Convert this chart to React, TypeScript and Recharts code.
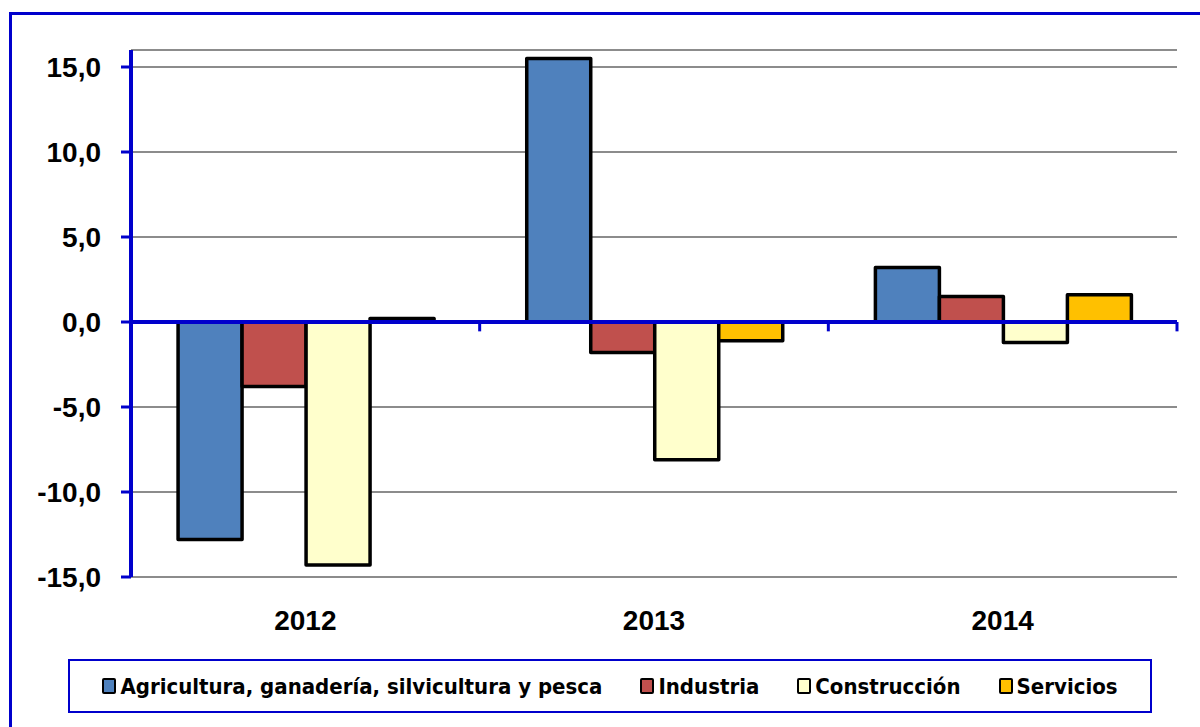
import React from 'react';
import { BarChart, Bar, XAxis, YAxis, CartesianGrid, ReferenceLine } from 'recharts';

const years = ['2012', '2013', '2014'];
const agricultura = [-12.8, 15.5, 3.2];
const industria = [-3.8, -1.8, 1.5];
const construccion = [-14.3, -8.1, -1.2];
const servicios = [0.2, -1.1, 1.6];
const yTicks = [-15, -10, -5, 0, 5, 10, 15];

const series = [
  { key: 'agricultura', name: 'Agricultura, ganadería, silvicultura y pesca', color: '#4F81BD' },
  { key: 'industria', name: 'Industria', color: '#C0504D' },
  { key: 'construccion', name: 'Construcción', color: '#FFFFCC' },
  { key: 'servicios', name: 'Servicios', color: '#FFC000' },
];

const data = years.map((year, i) => ({
  year,
  agricultura: agricultura[i],
  industria: industria[i],
  construccion: construccion[i],
  servicios: servicios[i],
}));

const AXIS_BLUE = '#0000CC';
const labelFont = '"Liberation Sans", Arial, sans-serif';
const legendFont = '"Liberation Sans Narrow", "DejaVu Sans Condensed", sans-serif';

const fmt = (v: number) => v.toFixed(1).replace('.', ',');

export default function App() {
  return (
    <div style={{ position: 'absolute', left: 0, top: 0, width: 1200, height: 727, overflow: 'hidden', background: '#fff' }}>
      <div
        style={{
          position: 'absolute',
          left: 9,
          top: 12,
          width: 1300,
          height: 800,
          border: `3px solid ${AXIS_BLUE}`,
        }}
      />
      <div style={{ position: 'absolute', left: 0, top: 0 }}>
        <BarChart
          width={1200}
          height={727}
          data={data}
          margin={{ top: 50, right: 23, bottom: 90, left: 0 }}
          barCategoryGap="13.5%"
          barGap={0}
        >
          <CartesianGrid horizontal vertical={false} stroke="#8C8C8C" strokeWidth={2} />
          <XAxis
            dataKey="year"
            axisLine={false}
            tickLine={false}
            tickSize={0}
            tickMargin={33}
            height={60}
            tick={{ fill: '#000', fontSize: 28, fontWeight: 'bold', fontFamily: labelFont }}
          />
          <YAxis
            width={131}
            domain={[-15, 16]}
            ticks={yTicks}
            interval={0}
            tickFormatter={fmt}
            axisLine={{ stroke: AXIS_BLUE, strokeWidth: 4 }}
            tickLine={{ stroke: AXIS_BLUE, strokeWidth: 3 }}
            tickSize={10}
            tickMargin={20}
            tick={{ fill: '#000', fontSize: 28, fontWeight: 'bold', fontFamily: labelFont }}
          />
          {series.map(s => (
            <Bar
              key={s.key}
              dataKey={s.key}
              name={s.name}
              fill={s.color}
              stroke="#000"
              strokeWidth={3.5}
              strokeLinejoin="round"
              isAnimationActive={false}
            />
          ))}
          <ReferenceLine y={0} stroke={AXIS_BLUE} strokeWidth={4} />
          {years.map(y => (
            <ReferenceLine
              key={y}
              segment={[{ x: y, y: 0 }, { x: y, y: -0.55 }]}
              position="end"
              stroke={AXIS_BLUE}
              strokeWidth={3}
            />
          ))}
        </BarChart>
      </div>
      <div
        style={{
          position: 'absolute',
          left: 68,
          top: 659,
          width: 1080,
          height: 50,
          border: `2px solid ${AXIS_BLUE}`,
          display: 'flex',
          alignItems: 'center',
          justifyContent: 'center',
          gap: 38,
          fontFamily: legendFont,
          fontWeight: 'bold',
          fontSize: 22,
          color: '#000',
        }}
      >
        {series.map(s => (
          <div key={s.key} style={{ display: 'flex', alignItems: 'center' }}>
            <span
              style={{
                display: 'inline-block',
                width: 10,
                height: 12,
                background: s.color,
                border: '2.5px solid #000',
                borderRadius: 2,
                marginRight: 4,
              }}
            />
            <span>{s.name}</span>
          </div>
        ))}
      </div>
    </div>
  );
}
